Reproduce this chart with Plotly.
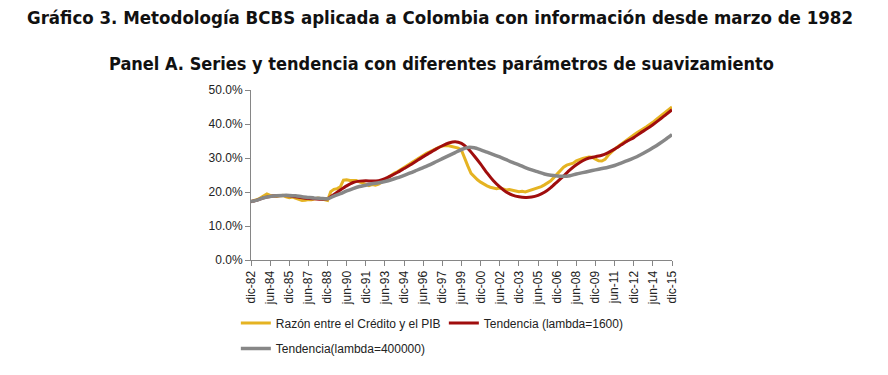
import plotly.graph_objects as go
import pandas as pd

# Quarterly dates (dic-82 .. dic-15) for the credit/GDP ratio
quarter_dates = pd.date_range("1982-12-01", "2015-12-01", freq="3MS")
# Semiannual dates for the smooth trends
half_dates = pd.date_range("1982-12-01", "2015-12-01", freq="6MS")

ratio = [
    17.2,
    17.4, 17.8, 18.3, 18.8,
    19.4, 19.0, 18.8, 18.7,
    18.9, 19.0, 18.6, 18.3,
    18.5, 18.2, 17.8, 17.5,
    17.6, 17.8, 17.7, 18.0,
    18.2, 18.0, 17.8, 17.5,
    20.1, 20.8, 21.0, 21.5,
    23.5, 23.6, 23.4, 23.3,
    23.4, 23.0, 22.6, 22.2,
    21.9, 22.2, 22.0, 22.3,
    22.8, 23.5, 24.3, 25.0,
    25.6, 26.0, 26.6, 27.3,
    28.0, 28.6, 29.2, 29.8,
    30.4, 31.0, 31.4, 31.8,
    32.3, 32.8, 33.2, 33.5,
    33.7, 33.6, 33.4, 33.1,
    32.9, 32.3, 30.2, 27.6,
    25.5, 24.5, 23.6, 22.9,
    22.3, 21.8, 21.4, 21.1,
    21.0, 21.2, 20.8, 20.6,
    20.7, 20.4, 20.3, 20.1,
    20.2, 20.0, 20.3, 20.6,
    20.8, 21.2, 21.6, 22.1,
    22.6, 23.3, 24.3, 25.3,
    26.3, 27.3, 27.9, 28.2,
    28.5, 29.2, 29.6, 29.9,
    30.1, 30.3, 30.2, 29.6,
    29.2, 29.1, 29.6, 30.8,
    31.8, 32.6, 33.3, 34.0,
    34.8, 35.6, 36.2, 36.8,
    37.4, 37.9, 38.6, 39.2,
    39.8, 40.5, 41.3, 42.0,
    42.8, 43.6, 44.3, 45.0,
]

trend_1600 = [
    17.2, 17.6, 18.3, 18.7, 18.9, 19.0, 18.9, 18.6, 18.3, 18.1, 18.0, 17.9,
    18.0, 19.3, 20.6, 21.8, 22.8, 23.2, 23.3, 23.2, 23.3, 23.9, 24.8, 25.8,
    26.9, 28.0, 29.2, 30.4, 31.5, 32.6, 33.6, 34.4, 34.8, 34.3, 32.8, 30.6,
    28.2, 25.6, 23.3, 21.5, 20.0, 19.1, 18.6, 18.4, 18.5, 19.0, 19.9, 21.3,
    23.0, 24.7, 26.5, 28.0, 29.2, 30.0, 30.4, 30.8, 31.6, 32.6, 33.8, 35.0,
    36.0, 37.3, 38.5, 39.8, 41.2, 42.7, 44.2,
]

trend_400000 = [
    17.2, 17.6, 18.3, 18.7, 18.9, 19.0, 19.0, 18.9, 18.6, 18.4, 18.2, 18.1,
    18.0, 18.8, 19.5, 20.3, 21.0, 21.6, 22.0, 22.4, 22.7, 23.1, 23.6, 24.2,
    24.9, 25.6, 26.4, 27.2, 28.0, 28.9, 29.8, 30.7, 31.6, 32.5, 33.1, 33.0,
    32.4, 31.7, 31.0, 30.3, 29.5, 28.7, 28.0, 27.2, 26.5, 25.9, 25.3, 24.9,
    24.7, 24.6, 24.8, 25.3, 25.7, 26.1, 26.5, 26.9, 27.3, 27.8, 28.5, 29.2,
    30.0, 30.9, 31.9, 33.0, 34.2, 35.5, 36.9,
]

tick_labels = ["dic-82", "jun-84", "dic-85", "jun-87", "dic-88", "jun-90",
               "dic-91", "jun-93", "dic-94", "jun-96", "dic-97", "jun-99",
               "dic-00", "jun-02", "dic-03", "jun-05", "dic-06", "jun-08",
               "dic-09", "jun-11", "dic-12", "jun-14", "dic-15"]
tick_dates = pd.date_range("1982-12-01", "2015-12-01", freq="18MS")

assert len(ratio) == len(quarter_dates)
assert len(trend_1600) == len(half_dates) == len(trend_400000)
assert len(tick_labels) == len(tick_dates)

YELLOW = "#E5B322"
RED = "#A00D0D"
GRAY = "#878787"

fig = go.Figure()
fig.add_trace(go.Scatter(x=quarter_dates, y=ratio, mode="lines",
                         name="Razón entre el Crédito y el PIB",
                         line=dict(color=YELLOW, width=3), legend="legend"))
fig.add_trace(go.Scatter(x=half_dates, y=trend_1600, mode="lines",
                         name="Tendencia (lambda=1600)",
                         line=dict(color=RED, width=3, shape="spline", smoothing=0.6),
                         legend="legend"))
fig.add_trace(go.Scatter(x=half_dates, y=trend_400000, mode="lines",
                         name="Tendencia(lambda=400000)",
                         line=dict(color=GRAY, width=3.5, shape="spline", smoothing=0.6),
                         legend="legend2"))

title_font = dict(family="DejaVu Sans Condensed, Liberation Sans Narrow, DejaVu Sans",
                  size=18.5, color="#111111")
sub_font = dict(family="DejaVu Sans Condensed, Liberation Sans Narrow, DejaVu Sans",
                size=18, color="#111111")

legend_common = dict(orientation="h", xanchor="left", yanchor="top",
                     entrywidth=163, entrywidthmode="pixels",
                     font=dict(size=12, color="#222222"),
                     itemwidth=30, bgcolor="rgba(0,0,0,0)")

fig.update_layout(
    width=880, height=367,
    margin=dict(l=243, r=216, t=82, b=113),
    paper_bgcolor="white", plot_bgcolor="white",
    font=dict(family="Liberation Sans, Arial, sans-serif", size=12, color="#222222"),
    showlegend=True,
    legend=dict(x=-0.036, y=-0.285, **legend_common),
    legend2=dict(x=-0.036, y=-0.436, **legend_common),
    annotations=[
        dict(text="<b>Gráfico 3. Metodología BCBS aplicada a Colombia con información desde marzo de 1982</b>",
             xref="paper", yref="paper", x=0.449, y=1.424, xanchor="center", yanchor="middle",
             showarrow=False, font=title_font),
        dict(text="<b>Panel A. Series y tendencia con diferentes parámetros de suavizamiento</b>",
             xref="paper", yref="paper", x=0.452, y=1.157, xanchor="center", yanchor="middle",
             showarrow=False, font=sub_font),
    ],
)

fig.update_xaxes(
    range=[quarter_dates[0], quarter_dates[-1]],
    tickmode="array", tickvals=tick_dates, ticktext=tick_labels,
    tickangle=-90, ticks="outside", ticklen=5, tickcolor="#868686",
    showline=True, linecolor="#868686", linewidth=1,
    showgrid=False, zeroline=False,
    tickfont=dict(size=12, color="#222222"),
)
fig.update_yaxes(
    range=[0, 50], dtick=10, tickformat=".1f", ticksuffix="%",
    ticks="outside", ticklen=5, tickcolor="#868686",
    showline=True, linecolor="#868686", linewidth=1,
    showgrid=False, zeroline=False,
    tickfont=dict(size=12, color="#222222"),
)

fig.write_html("out.html")
